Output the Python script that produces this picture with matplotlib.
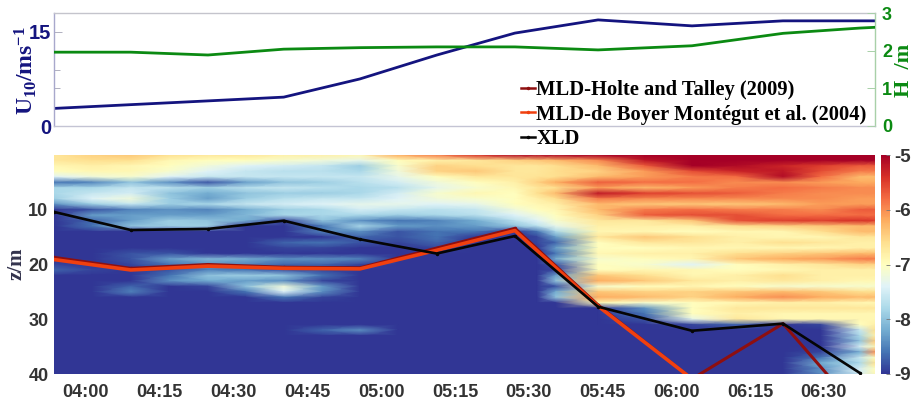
import numpy as np
import matplotlib
matplotlib.use("Agg")
import matplotlib.pyplot as plt
from matplotlib.lines import Line2D

plt.rcParams['mathtext.fontset'] = 'custom'
plt.rcParams['mathtext.rm'] = 'Liberation Serif:bold'
plt.rcParams['mathtext.it'] = 'Liberation Serif:bold'
plt.rcParams['mathtext.bf'] = 'Liberation Serif:bold'

# minutes after 04:00
knot_min = [-6.5, 9.1, 24.8, 40.2, 55.7, 71.3, 87.2, 104.1, 123.2, 141.7, 157.3]
top_min = knot_min + [160.4]
u10 = [2.8, 3.4, 4.0, 4.6, 7.5, 11.3, 14.8, 16.9, 15.95, 16.75, 16.75, 16.75]
hs = [1.96, 1.96, 1.885, 2.04, 2.08, 2.10, 2.10, 2.02, 2.13, 2.46, 2.60, 2.62]
xld = [10.4, 13.7, 13.5, 12.0, 15.4, 18.0, 14.8, 27.7, 32.1, 30.8, 39.8]
mld_ht = [18.7, 20.7, 20.0, 20.5, 20.6, 17.0, 13.4, 27.4, 40.9, 30.8, 46.9]
mld_db = [19.1, 21.0, 20.3, 20.7, 20.8, 17.4, 13.8, 27.6, 40.9, np.nan, np.nan]

tick_min = [0, 15, 30, 45, 60, 75, 90, 105, 120, 135, 150]
tick_lab = ['04:00', '04:15', '04:30', '04:45', '05:00', '05:15', '05:30',
            '05:45', '06:00', '06:15', '06:30']

grid_min = [-6.5, 1.2, 9.1, 16.9, 24.8, 32.5, 40.2, 48, 55.7, 63.4, 71.3, 79.3, 87.2,
            91.7, 95.5, 104.1, 113.6, 123.2, 132.3, 141.7, 149.4, 157.3, 160.4]
grid_z = list(range(41))
eps = [
[-6.7,-6.5,-6.4,-6.6,-6.7,-6.7,-6.8,-6.8,-6.9,-6.2,-5.9,-5.4,-5.1,-5.1,-5.05,-5,-5,-5,-5,-5,-5,-5,-5],
[-6.7,-6.6,-6.6,-6.9,-7,-7,-7.1,-7.2,-7.3,-7,-6.8,-6.7,-6.5,-6.4,-6.3,-6,-5.2,-5,-5,-5,-5,-5,-5],
[-6.9,-6.8,-6.9,-7,-7.2,-7.4,-7.5,-7.6,-7.9,-7.1,-6.5,-6.6,-6.7,-6.7,-6.6,-6.3,-5.7,-5,-5.1,-5.3,-5.5,-5.7,-5.7],
[-7,-6.9,-6.9,-7.1,-7.4,-7.6,-7.7,-7.7,-7.8,-7.2,-6.5,-6.4,-6.7,-6.7,-6.6,-6.5,-6.1,-5.6,-5.3,-5.2,-5.6,-5.9,-5.9],
[-7.4,-7.2,-7.1,-7.4,-7.6,-7.6,-7.6,-7.6,-7.6,-7.3,-7,-6.7,-6.7,-6.65,-6.6,-6.3,-6.1,-5.9,-5.8,-5.1,-5.8,-6.3,-6.3],
[-8.6,-8.5,-8,-8.4,-8.8,-8.3,-8,-7.9,-7.7,-7.5,-7.2,-7,-6.8,-6.5,-6.2,-5.7,-5.8,-5.8,-6,-6,-6.1,-6.2,-6.2],
[-7.8,-7.8,-7.6,-7.7,-7.9,-7.7,-7.6,-7.7,-7.8,-7.7,-7.3,-7.1,-6.9,-6.7,-6.6,-6.1,-6.3,-6.1,-5.9,-5.8,-5.9,-6,-6],
[-7.8,-7.6,-7.5,-8,-8.2,-8,-7.9,-7.9,-7.8,-7.5,-7.1,-6.9,-7,-6.6,-6.3,-5.2,-5.5,-5.6,-5.7,-5.9,-6,-6,-6],
[-7.9,-7.4,-7.2,-7.9,-8.3,-7.9,-7.7,-7.6,-7.6,-7.4,-7.2,-7.1,-7,-6.8,-6.6,-5.9,-6,-6,-6,-6,-6,-6.1,-6.1],
[-8.4,-7.9,-7.6,-7.9,-7.8,-7.6,-7.5,-7.4,-7.3,-7.3,-7.4,-7.3,-7,-6.9,-6.8,-6.3,-6.4,-6.4,-6.4,-6.3,-6.1,-6.1,-6.1],
[-9,-8.8,-8.5,-8.4,-8.5,-8.2,-7.9,-7.8,-7.5,-7.6,-7.7,-7.6,-7.2,-7,-6.9,-6.3,-5.9,-5.8,-5.9,-5.9,-6,-5.7,-5.7],
[-9,-8.3,-8.3,-8.3,-8.3,-8.1,-7.8,-7.8,-7.8,-7.9,-7.8,-7.7,-7.4,-7.2,-7,-6.5,-5.7,-5.6,-5.6,-5.8,-5.8,-5.8,-5.8],
[-9,-8.7,-8.3,-7.9,-8,-8.2,-8.9,-8,-8.4,-8.6,-8.5,-8.2,-7.7,-7.4,-7.1,-6.7,-6.7,-6.4,-5.6,-5.5,-5.5,-5.4,-5.5],
[-9,-8.6,-8,-7.9,-7.9,-9,-9,-8.6,-7.8,-8.3,-8.4,-8.3,-8,-7.7,-7.3,-6.8,-6.8,-6.8,-6.6,-6.5,-6.4,-6.3,-6.3],
[-9,-9,-9,-9,-9,-9,-9,-8.5,-8.4,-8.8,-8.6,-8.6,-9,-8.6,-7.8,-6.9,-6.9,-7,-6.9,-6.9,-6.6,-6.3,-6.3],
[-9,-9,-9,-9,-9,-9,-9,-9,-8.7,-8.8,-8.6,-9,-9,-8.9,-8.3,-6.7,-6.4,-6.6,-6.8,-6.9,-6.9,-6.7,-6.7],
[-9,-9,-9,-9,-9,-9,-8.7,-8.6,-8.8,-8.9,-8.7,-9,-9,-8.9,-8.7,-7,-6.7,-6.7,-6.8,-6.6,-6.7,-6.8,-6.8],
[-9,-9,-9,-9,-9,-9,-8.9,-8.9,-9,-9,-8.9,-9,-9,-9,-8.3,-7,-7,-6.9,-6.9,-6.9,-6.9,-6.8,-6.8],
[-9,-9,-8.8,-8.8,-9,-9,-9,-9,-9,-9,-9,-9,-9,-9,-8.6,-6.9,-6.8,-6.8,-6.6,-6.5,-6.4,-6.3,-6.3],
[-9,-9,-8.8,-8.3,-8.1,-8.2,-8.4,-8.4,-8.5,-9,-9,-9,-9,-9,-8.2,-7.1,-7,-6.9,-6.4,-6.2,-6.1,-5.9,-5.9],
[-8.9,-9,-8.9,-8.6,-8.4,-8.5,-8.7,-8.7,-8.9,-9,-9,-9,-9,-9,-8.8,-7,-7.1,-7.4,-7,-6.8,-6.7,-6.5,-6.5],
[-8.7,-8.9,-9,-8.8,-8.5,-8.6,-8.8,-8.9,-9,-9,-9,-9,-9,-9,-8.9,-7,-6.9,-6.9,-7,-6.9,-6.8,-6.8,-6.8],
[-9,-9,-9,-8.6,-8,-7.9,-8,-8.6,-9,-9,-9,-9,-9,-9,-8.3,-6.4,-6.6,-6.9,-6.8,-6.6,-6.8,-6.8,-6.8],
[-9,-9,-9,-8.4,-8.2,-8.3,-8.4,-8.9,-9,-9,-9,-9,-9,-9,-8,-6.2,-6.4,-6.7,-6.8,-6.7,-6.8,-6.9,-6.9],
[-9,-9,-8.7,-9,-8.9,-8,-7.2,-8.3,-9,-9,-9,-9,-9,-9,-8.8,-7.1,-7,-6.9,-7,-7.1,-7.1,-7.1,-7.1],
[-9,-9,-8.5,-9,-9,-8.6,-7.4,-8.4,-9,-9,-9,-9,-9,-9,-8.2,-6.4,-6.5,-6.5,-6.4,-6.3,-6.4,-6.6,-6.6],
[-9,-9,-9,-9,-9,-9,-8.6,-8.9,-9,-9,-9,-9,-9,-9,-8,-6.2,-6.3,-6.5,-6.2,-6,-6.2,-6.3,-6.3],
[-9,-9,-9,-9,-9,-9,-9,-9,-9,-9,-9,-9,-9,-9,-9,-6.9,-7.1,-7,-6.9,-6.8,-6.8,-6.9,-6.9],
[-9,-9,-9,-9,-9,-9,-9,-9,-9,-9,-9,-9,-9,-9,-9,-9,-8.4,-7,-6.7,-6.7,-6.7,-6.7,-6.7],
[-9,-9,-9,-9,-9,-9,-9,-9,-9,-9,-9,-9,-9,-9,-9,-9,-8.6,-7,-6.8,-6.9,-6.9,-6.9,-6.9],
[-9,-9,-9,-9,-9,-9,-9,-9,-9,-9,-9,-9,-9,-9,-9,-9,-8.8,-7.3,-6.7,-6.9,-6.9,-6.9,-6.9],
[-9,-9,-9,-9,-9,-9,-9,-9,-9,-9,-9,-9,-9,-9,-9,-9,-9,-8.9,-8.7,-9,-8.9,-7,-6.8],
[-9,-9,-9,-9,-9,-9,-9,-8.7,-8.4,-9,-9,-9,-9,-9,-9,-9,-9,-9,-9,-9,-9,-7.6,-6.6],
[-9,-9,-9,-9,-9,-9,-9,-9,-9,-9,-9,-9,-9,-9,-9,-9,-9,-9,-9,-9,-9,-7.8,-6.8],
[-9,-9,-9,-9,-9,-9,-9,-9,-9,-9,-9,-9,-9,-9,-9,-9,-9,-9,-9,-9,-9,-8,-6.4],
[-9,-9,-9,-9,-9,-9,-9,-9,-9,-9,-9,-9,-9,-9,-9,-9,-9,-9,-9,-9,-9,-7.5,-6.9],
[-9,-9,-9,-9,-9,-9,-9,-9,-9,-9,-9,-9,-9,-9,-9,-9,-9,-9,-9,-9,-8.9,-8.2,-6],
[-9,-9,-9,-9,-9,-9,-9,-9,-9,-9,-9,-9,-9,-9,-9,-9,-9,-9,-9,-9,-8.6,-7.6,-7],
[-9,-9,-9,-9,-9,-9,-9,-9,-9,-9,-9,-9,-9,-9,-9,-9,-9,-9,-9,-9,-8.2,-7.8,-6.6],
[-9,-9,-9,-9,-9,-9,-9,-9,-9,-9,-9,-9,-9,-9,-9,-9,-9,-9,-9,-9,-8.4,-7.5,-7],
[-9,-9,-9,-9,-9,-9,-9,-9,-9,-9,-9,-9,-9,-9,-9,-9,-9,-9,-9,-9,-8.4,-7.5,-6.9],
]

W, H = 914, 400
def box(x0, y0, x1, y1):
    return [x0 / W, 1 - y1 / H, (x1 - x0) / W, (y1 - y0) / H]

NAVY = '#14147f'
GREEN = '#0b8a12'
SANS = 'Liberation Sans'
SERIF = 'Liberation Serif'
XLIM = (-6.5, 160.4)

fig = plt.figure(figsize=(W / 100, H / 100), dpi=100)

# top panel
ax = fig.add_axes(box(54, 13, 875, 126))
ax.plot(top_min, u10, color=NAVY, lw=2.0)
ax.set_xlim(*XLIM)
ax.set_ylim(0, 18)
ax.set_xticks([])
ax.set_yticks([0, 15])
ax.set_yticks([6, 9], minor=True)
ax.tick_params(axis='y', which='both', direction='in', length=6, width=0.7, color='#b0b0c0',
               labelsize=14.5, labelcolor=NAVY, pad=2)
ax.tick_params(axis='y', which='minor', length=4)
for t in ax.get_yticklabels():
    t.set_family(SANS); t.set_weight('bold')
for k, c in {'top': '#c4c4cc', 'bottom': '#c4c4d4', 'left': '#a8a8cc', 'right': '#a8d0a8'}.items():
    ax.spines[k].set_color(c); ax.spines[k].set_linewidth(1.0)
fig.text(26 / W, 1 - 71 / H, r'$\mathrm{U_{10}/ms^{-1}}$', color=NAVY, fontsize=17,
         rotation=90, ha='center', va='center')

ax2 = ax.twinx()
ax2.plot(top_min, hs, color=GREEN, lw=2.0)
ax2.set_ylim(0, 3)
ax2.set_yticks([0, 1, 2, 3])
ax2.tick_params(axis='y', direction='in', length=6, width=0.7, color='#a8d0a8',
                labelsize=13, labelcolor=GREEN, pad=5)
for t in ax2.get_yticklabels():
    t.set_family(SANS); t.set_weight('bold')
for s in ax2.spines.values():
    s.set_visible(False)
fig.text(904 / W, 1 - 70 / H, 'H  /m', color=GREEN, fontsize=16, family=SERIF, weight='bold',
         rotation=90, ha='center', va='center')

# heat map
ax3 = fig.add_axes(box(54, 155, 875, 374))
mesh = ax3.pcolormesh(grid_min, grid_z, np.array(eps), cmap='RdYlBu_r', vmin=-9, vmax=-5,
                      shading='gouraud', rasterized=True)
l_ht, = ax3.plot(knot_min, mld_ht, color='#8e0f10', lw=2.2, marker='.', ms=3)
l_db, = ax3.plot(knot_min, mld_db, color='#f0400f', lw=2.6)
l_x, = ax3.plot(knot_min, xld, color='#050505', lw=1.9, marker='.', ms=3)
ax3.set_xlim(*XLIM)
ax3.set_ylim(40, 0)
ax3.set_xticks(tick_min, tick_lab)
ax3.set_yticks([10, 20, 30, 40])
ax3.tick_params(axis='both', length=0, labelsize=13, labelcolor='#333333')
ax3.tick_params(axis='x', pad=7)
ax3.tick_params(axis='y', pad=4)
for t in ax3.get_xticklabels() + ax3.get_yticklabels():
    t.set_family(SANS); t.set_weight('bold')
for s in ax3.spines.values():
    s.set_visible(False)
fig.text(17 / W, 1 - 264 / H, 'z/m', color='#33334d', fontsize=15, family=SERIF, weight='bold',
         rotation=90, ha='center', va='center')

# colour bar
cax = fig.add_axes(box(880.5, 155, 890, 374))
cb = fig.colorbar(mesh, cax=cax, ticks=[-5, -6, -7, -8, -9])
cb.outline.set_visible(False)
cb.ax.tick_params(direction='in', length=3, width=0.6, color='#777777', labelsize=13.5,
                  labelcolor='#333333', pad=3)
cb.ax.set_yticklabels(['-5', '-6', '-7', '-8', '-9'])
for t in cb.ax.get_yticklabels():
    t.set_family(SANS); t.set_weight('bold')

# legend
handles = [Line2D([], [], color='#8e0f10', lw=1.8, marker='.', ms=3),
           Line2D([], [], color='#f0400f', lw=1.8, marker='.', ms=3),
           Line2D([], [], color='#050505', lw=1.8, marker='.', ms=3)]
labels = ['MLD-Holte and Talley (2009)', 'MLD-de Boyer Montégut et al. (2004)', 'XLD']
fig.legend(handles, labels, loc='upper left', bbox_to_anchor=(521 / W, 1 - 80 / H),
           frameon=False, handlelength=0.7, handletextpad=0.05, labelspacing=0.22,
           borderpad=0, borderaxespad=0,
           prop={'family': SERIF, 'weight': 'bold', 'size': 14.8})

fig.savefig('out.png', dpi=100)
